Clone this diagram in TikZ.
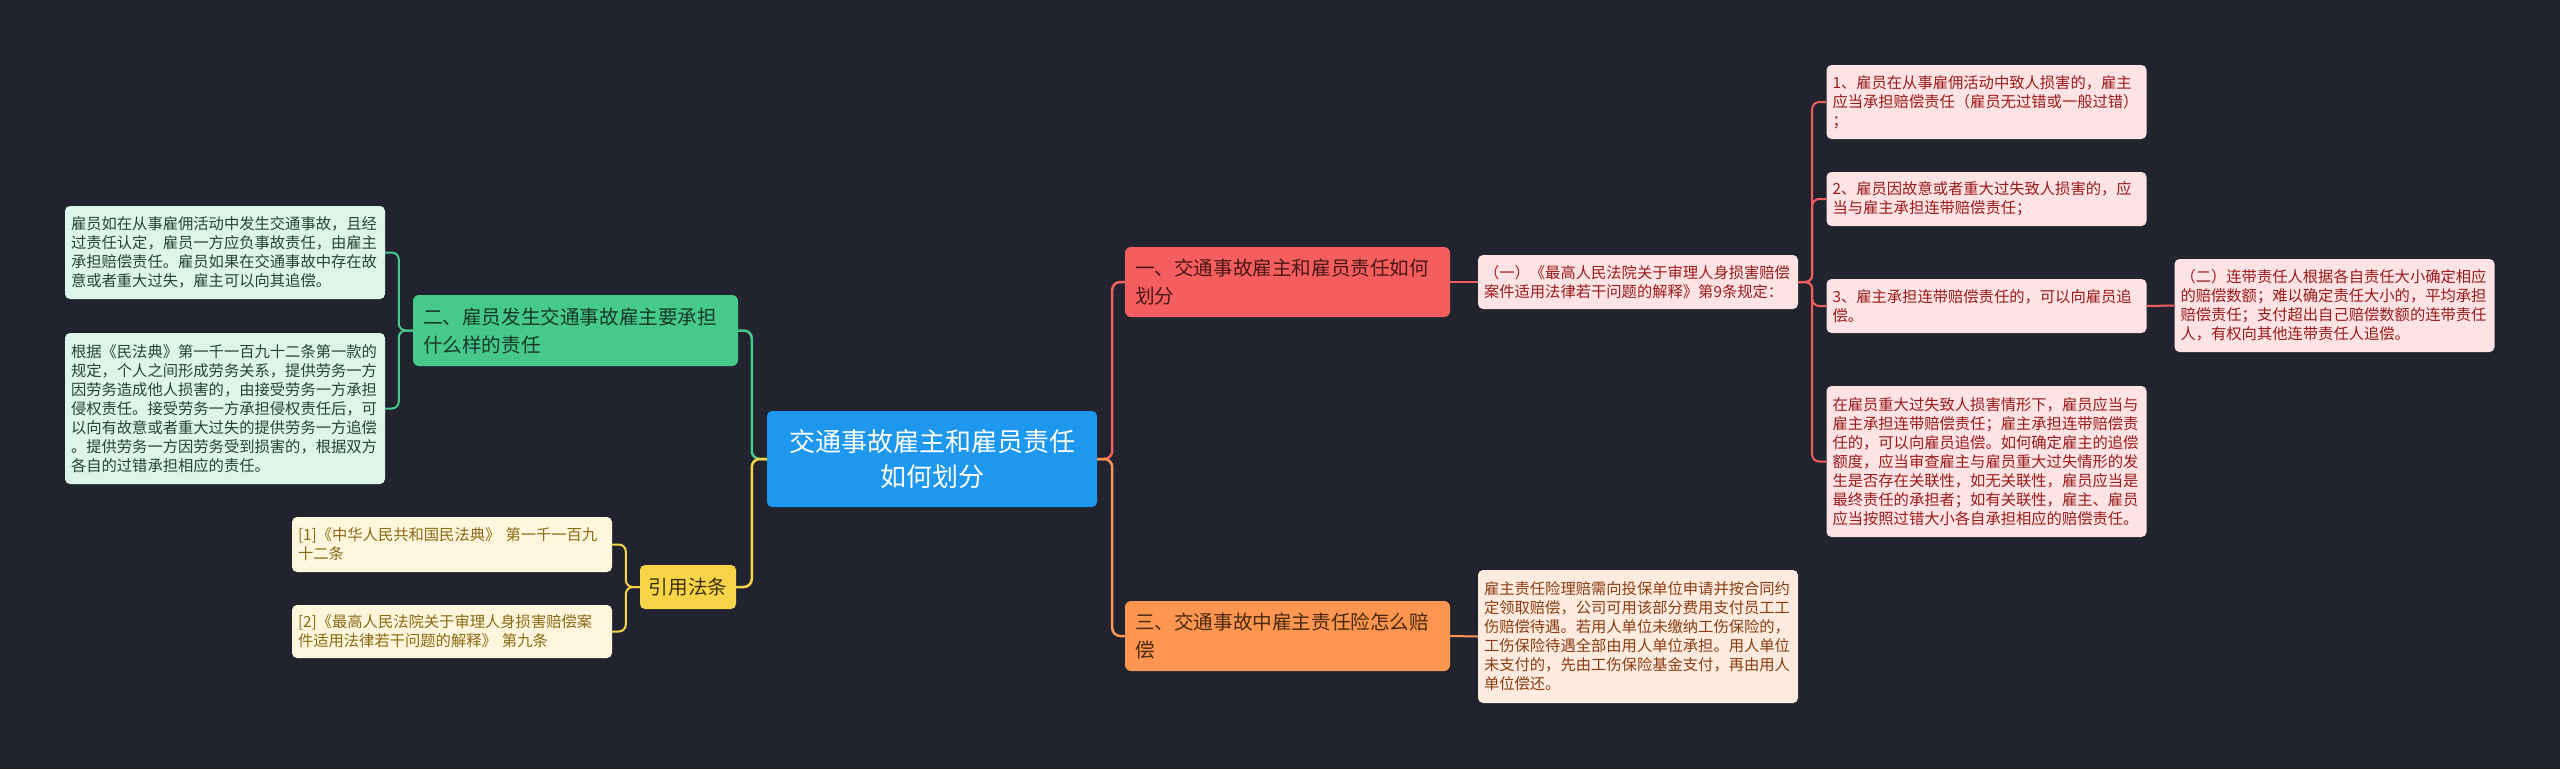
\documentclass[tikz,border=0pt]{standalone}
\usepackage{fontspec}
\setmainfont{Noto Sans CJK SC}
\definecolor{bg}{HTML}{21242E}
\definecolor{cblue}{HTML}{1E97EF}
\definecolor{cgreen}{HTML}{46C98A}
\definecolor{cred}{HTML}{F45E5E}
\definecolor{corange}{HTML}{FD9650}
\definecolor{cyellow}{HTML}{F8D449}
\definecolor{lgreen}{HTML}{DEF6EA}
\definecolor{lred}{HTML}{FDE3E3}
\definecolor{lyellow}{HTML}{FDF6DC}
\definecolor{lorange}{HTML}{FDEBDF}
\definecolor{tgreen}{HTML}{234433}
\definecolor{tred}{HTML}{9A1B1B}
\definecolor{tyellow}{HTML}{8A6A14}
\definecolor{torange}{HTML}{8A3D12}
\definecolor{dgreen}{HTML}{16392A}
\definecolor{dred}{HTML}{4A1616}
\definecolor{dorange}{HTML}{4A2A0E}
\definecolor{dyellow}{HTML}{3B300A}
\tikzset{
  box/.style={rounded corners=5, inner ysep=0, align=left},
  leaf/.style={box, inner xsep=6, text width=308, font=\fontsize{15.3}{19}\selectfont},
  lvl/.style={box, rounded corners=6, inner xsep=10, text width=305, font=\fontsize{19.6}{28}\selectfont},
  link/.style={line width=2.5, rounded corners=8},
  sublink/.style={line width=2, rounded corners=7}
}
\begin{document}
\begin{tikzpicture}[x=1pt,y=-1pt]
\fill[bg] (0,0) rectangle (2560,769);
\useasboundingbox (0,0) rectangle (2560,769);

% center
\node[box, fill=cblue, text=white, inner xsep=10, text width=310, align=center, minimum height=96,
      font=\fontsize{26}{35}\selectfont] (c) at (932,459) {交通事故雇主和雇员责任\\如何划分};

% left side
\node[lvl, fill=cgreen, text=dgreen, minimum height=71] (n2) at (575.5,330.5) {二、雇员发生交通事故雇主要承担\\什么样的责任};
\node[leaf, fill=lgreen, text=tgreen, minimum height=93] (g1) at (225,252.5)
  {雇员如在从事雇佣活动中发生交通事故，且经\\过责任认定，雇员一方应负事故责任，由雇主\\承担赔偿责任。雇员如果在交通事故中存在故\\意或者重大过失，雇主可以向其追偿。};
\node[leaf, fill=lgreen, text=tgreen, minimum height=151] (g2) at (225,408.5)
  {根据《民法典》第一千一百九十二条第一款的\\规定，个人之间形成劳务关系，提供劳务一方\\因劳务造成他人损害的，由接受劳务一方承担\\侵权责任。接受劳务一方承担侵权责任后，可\\以向有故意或者重大过失的提供劳务一方追偿\\。提供劳务一方因劳务受到损害的，根据双方\\各自的过错承担相应的责任。};

\node[box, fill=cyellow, text=dyellow, inner xsep=0, minimum width=96, minimum height=44, align=center,
      font=\fontsize{19.6}{28}\selectfont] (ref) at (688,587) {引用法条};
\node[leaf, fill=lyellow, text=tyellow, minimum height=55] (r1) at (452,544.5)
  {[1]《中华人民共和国民法典》 第一千一百九\\十二条};
\node[leaf, fill=lyellow, text=tyellow, minimum height=53] (r2) at (452,631.5)
  {[2]《最高人民法院关于审理人身损害赔偿案\\件适用法律若干问题的解释》 第九条};

% right side
\node[lvl, fill=cred, text=dred, minimum height=70] (n1) at (1287.5,282) {一、交通事故雇主和雇员责任如何\\划分};
\node[lvl, fill=corange, text=dorange, minimum height=70] (n3) at (1287.5,636) {三、交通事故中雇主责任险怎么赔\\偿};

\node[leaf, fill=lred, text=tred, minimum height=54] (p1) at (1638,282)
  {（一）《最高人民法院关于审理人身损害赔偿\\案件适用法律若干问题的解释》第9条规定：};
\node[leaf, fill=lorange, text=torange, minimum height=133] (o1) at (1638,636.5)
  {雇主责任险理赔需向投保单位申请并按合同约\\定领取赔偿，公司可用该部分费用支付员工工\\伤赔偿待遇。若用人单位未缴纳工伤保险的，\\工伤保险待遇全部由用人单位承担。用人单位\\未支付的，先由工伤保险基金支付，再由用人\\单位偿还。};

\node[leaf, fill=lred, text=tred, minimum height=74] (L1) at (1986.5,102)
  {1、雇员在从事雇佣活动中致人损害的，雇主\\应当承担赔偿责任（雇员无过错或一般过错）\\；};
\node[leaf, fill=lred, text=tred, minimum height=54] (L2) at (1986.5,199)
  {2、雇员因故意或者重大过失致人损害的，应\\当与雇主承担连带赔偿责任；};
\node[leaf, fill=lred, text=tred, minimum height=54] (L3) at (1986.5,306)
  {3、雇主承担连带赔偿责任的，可以向雇员追\\偿。};
\node[leaf, fill=lred, text=tred, minimum height=151] (L4) at (1986.5,461.5)
  {在雇员重大过失致人损害情形下，雇员应当与\\雇主承担连带赔偿责任；雇主承担连带赔偿责\\任的，可以向雇员追偿。如何确定雇主的追偿\\额度，应当审查雇主与雇员重大过失情形的发\\生是否存在关联性，如无关联性，雇员应当是\\最终责任的承担者；如有关联性，雇主、雇员\\应当按照过错大小各自承担相应的赔偿责任。};
\node[leaf, fill=lred, text=tred, minimum height=93] (q2) at (2334.5,305.5)
  {（二）连带责任人根据各自责任大小确定相应\\的赔偿数额；难以确定责任大小的，平均承担\\赔偿责任；支付超出自己赔偿数额的连带责任\\人，有权向其他连带责任人追偿。};

% connectors
\draw[link, cgreen] (c.west) -- ++(-15,0) |- (n2.east);
\draw[link, cyellow] (c.west) -- ++(-15,0) |- (ref.east);
\draw[sublink, cgreen] (n2.west) -- ++(-14,0) |- (g1.east);
\draw[sublink, cgreen] (n2.west) -- ++(-14,0) |- (g2.east);
\draw[sublink, cyellow] (ref.west) -- ++(-14,0) |- (r1.east);
\draw[sublink, cyellow] (ref.west) -- ++(-14,0) |- (r2.east);
\draw[link, cred] (c.east) -- ++(15,0) |- (n1.west);
\draw[link, corange] (c.east) -- ++(15,0) |- (n3.west);
\draw[sublink, cred] (n1.east) -- (p1.west);
\draw[sublink, corange] (n3.east) -- (o1.west);
\draw[sublink, cred] (p1.east) -- ++(14,0) |- (L1.west);
\draw[sublink, cred] (p1.east) -- ++(14,0) |- (L2.west);
\draw[sublink, cred] (p1.east) -- ++(14,0) |- (L3.west);
\draw[sublink, cred] (p1.east) -- ++(14,0) |- (L4.west);
\draw[sublink, cred] (L3.east) -- (q2.west);
\end{tikzpicture}
\end{document}
